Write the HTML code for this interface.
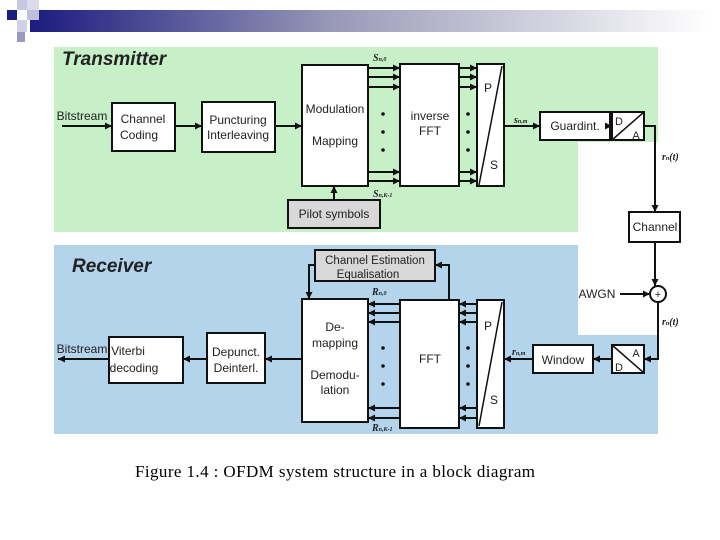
<!DOCTYPE html>
<html><head><meta charset="utf-8"><style>
html,body{margin:0;padding:0;background:#fff}
svg{display:block}
.s{font-family:"Liberation Sans",Arial,sans-serif}
.r{font-family:"Liberation Serif",serif}
</style></head><body>
<div style="position:absolute;left:578px;top:47px;width:80px;height:94px;background:#c8f0c8"></div>
<svg width="720" height="540" viewBox="0 0 720 540" xmlns="http://www.w3.org/2000/svg" style="position:absolute;left:0;top:0">
<defs>
<linearGradient id="g" x1="0" x2="1" y1="0" y2="0">
<stop offset="0" stop-color="#1b1b80"/><stop offset="0.45" stop-color="#9a9ab8"/><stop offset="1" stop-color="#ffffff"/>
</linearGradient>
<marker id="a" markerWidth="8" markerHeight="8" refX="7" refY="4" orient="auto" markerUnits="userSpaceOnUse">
<path d="M0,0.5 L7,4 L0,7.5 z" fill="#111"/></marker>
</defs>
<rect x="30" y="10" width="680" height="22" fill="url(#g)"/>
<rect x="7" y="10" width="10" height="10" fill="#1b1b80"/>
<rect x="17" y="0" width="10" height="10" fill="#c8c8e0"/>
<rect x="27" y="0" width="12" height="10" fill="#dcdcec"/>
<rect x="27" y="10" width="12" height="10" fill="#c0c0dc"/>
<rect x="17" y="20" width="10" height="12" fill="#d0d0e6"/>
<rect x="17" y="32" width="8" height="10" fill="#9a9ac0"/>
<rect x="54" y="47" width="524" height="185" fill="#c8f0c8"/>
<rect x="577" y="47" width="81" height="95" fill="#c8f0c8"/>
<rect x="54" y="245" width="524" height="189" fill="#b4d4ec"/>
<rect x="577" y="335" width="81" height="99" fill="#b4d4ec"/>
<text class="s" x="62" y="65" font-size="19" font-weight="bold" font-style="italic" fill="#222">Transmitter</text>
<text class="s" x="72" y="272" font-size="19" font-weight="bold" font-style="italic" fill="#222">Receiver</text>
<g stroke="#111" stroke-width="2" fill="#fff">
<rect x="112" y="103" width="63" height="48"/>
<rect x="202" y="102" width="73" height="50"/>
<rect x="302" y="65" width="66" height="121"/>
<rect x="288" y="200" width="92" height="28" fill="#d8d8d8"/>
<rect x="400" y="64" width="59" height="122"/>
<rect x="477" y="64" width="27" height="122"/>
<rect x="540" y="112" width="70" height="28"/>
<rect x="612" y="112" width="32" height="28"/>
<rect x="629" y="212" width="51" height="30"/>
<circle cx="658" cy="294" r="8"/>
<rect x="612" y="345" width="32" height="28"/>
<rect x="533" y="345" width="60" height="28"/>
<rect x="400" y="300" width="59" height="128"/>
<rect x="477" y="300" width="27" height="128"/>
<rect x="302" y="299" width="66" height="123"/>
<rect x="315" y="250" width="120" height="31" fill="#d8d8d8"/>
<rect x="207" y="333" width="58" height="50"/>
<rect x="109" y="337" width="74" height="46"/>
</g>
<g stroke="#111" stroke-width="1.5" fill="none">
<line x1="479" y1="185" x2="502" y2="66"/>
<line x1="479" y1="426" x2="502" y2="302"/>
<line x1="612" y1="140" x2="644" y2="112"/>
<line x1="612" y1="345" x2="644" y2="373"/>
</g>
<g stroke="#111" stroke-width="2" fill="none" marker-end="url(#a)">
<line x1="62" y1="126" x2="112" y2="126"/>
<line x1="175" y1="126" x2="202" y2="126"/>
<line x1="275" y1="126" x2="302" y2="126"/>
<line x1="334" y1="200" x2="334" y2="186"/>
<line x1="368" y1="68" x2="400" y2="68"/><line x1="368" y1="77" x2="400" y2="77"/><line x1="368" y1="87" x2="400" y2="87"/>
<line x1="368" y1="172" x2="400" y2="172"/><line x1="368" y1="181" x2="400" y2="181"/>
<line x1="459" y1="68" x2="477" y2="68"/><line x1="459" y1="77" x2="477" y2="77"/><line x1="459" y1="87" x2="477" y2="87"/>
<line x1="459" y1="172" x2="477" y2="172"/><line x1="459" y1="181" x2="477" y2="181"/>
<line x1="504" y1="126" x2="540" y2="126"/>
<line x1="610" y1="126" x2="612" y2="126"/>
<polyline points="644,126 655,126 655,212"/>
<line x1="655" y1="242" x2="655" y2="286"/>
<line x1="620" y1="294" x2="650" y2="294"/>
<polyline points="658,302 658,359 644,359"/>
<line x1="612" y1="359" x2="593" y2="359"/>
<line x1="533" y1="359" x2="504" y2="359"/>
<line x1="477" y1="304" x2="459" y2="304"/><line x1="477" y1="313" x2="459" y2="313"/><line x1="477" y1="322" x2="459" y2="322"/>
<line x1="477" y1="408" x2="459" y2="408"/><line x1="477" y1="418" x2="459" y2="418"/>
<line x1="400" y1="304" x2="368" y2="304"/><line x1="400" y1="313" x2="368" y2="313"/><line x1="400" y1="322" x2="368" y2="322"/>
<line x1="400" y1="408" x2="368" y2="408"/><line x1="400" y1="418" x2="368" y2="418"/>
<polyline points="449,300 449,265 435,265"/>
<polyline points="315,265 309,265 309,299"/>
<line x1="302" y1="359" x2="265" y2="359"/>
<line x1="207" y1="359" x2="183" y2="359"/>
<line x1="109" y1="359" x2="58" y2="359"/>
</g>
<g fill="#111">
<circle cx="383" cy="114" r="1.8"/><circle cx="383" cy="132" r="1.8"/><circle cx="383" cy="150" r="1.8"/>
<circle cx="468" cy="114" r="1.8"/><circle cx="468" cy="132" r="1.8"/><circle cx="468" cy="150" r="1.8"/>
<circle cx="383" cy="348" r="1.8"/><circle cx="383" cy="366" r="1.8"/><circle cx="383" cy="384" r="1.8"/>
<circle cx="468" cy="348" r="1.8"/><circle cx="468" cy="366" r="1.8"/><circle cx="468" cy="384" r="1.8"/>
</g>
<g class="s" font-size="12" fill="#222" text-anchor="middle">
<text x="143" y="123">Channel</text><text x="139" y="139">Coding</text>
<text x="238" y="124">Puncturing</text><text x="238" y="139">Interleaving</text>
<text x="335" y="113">Modulation</text><text x="335" y="145">Mapping</text>
<text x="334" y="218">Pilot symbols</text>
<text x="430" y="120">inverse</text><text x="430" y="135">FFT</text>
<text x="488" y="92">P</text><text x="494" y="169">S</text>
<text x="575" y="130">Guardint.</text>
<text x="619" y="125" font-size="11">D</text><text x="636" y="139" font-size="11">A</text>
<text x="655" y="231">Channel</text>
<text x="597" y="298">AWGN</text>
<text x="658" y="298" font-size="11">+</text>
<text x="636" y="357" font-size="11">A</text><text x="619" y="371" font-size="11">D</text>
<text x="563" y="364">Window</text>
<text x="430" y="363">FFT</text>
<text x="488" y="330">P</text><text x="494" y="404">S</text>
<text x="335" y="331">De-</text><text x="335" y="347">mapping</text>
<text x="335" y="379">Demodu-</text><text x="335" y="394">lation</text>
<text x="375" y="264" font-size="11.5">Channel Estimation</text>
<text x="368" y="278" font-size="11.5">Equalisation</text>
<text x="236" y="356">Depunct.</text><text x="236" y="372">Deinterl.</text>
<text x="128" y="355">Viterbi</text><text x="134" y="372">decoding</text>
<text x="82" y="120">Bitstream</text>
<text x="82" y="353">Bitstream</text>
</g>
<g class="r" font-style="italic" font-weight="bold" font-size="10" fill="#222">
<text x="373" y="61">S<tspan font-size="6">n,0</tspan></text>
<text x="373" y="197">S<tspan font-size="6">n,K-1</tspan></text>
<text x="514" y="123">s<tspan font-size="6">n,m</tspan></text>
<text x="662" y="160">r<tspan font-size="6">n</tspan>(t)</text>
<text x="662" y="325">r<tspan font-size="6">n</tspan>(t)</text>
<text x="512" y="355">r<tspan font-size="6">n,m</tspan></text>
<text x="372" y="295">R<tspan font-size="6">n,0</tspan></text>
<text x="372" y="431">R<tspan font-size="6">n,K-1</tspan></text>
</g>
<text class="r" x="135" y="477" font-size="17" textLength="400" lengthAdjust="spacing" fill="#000">Figure 1.4 : OFDM system structure in a block diagram</text>
</svg>
</body></html>
